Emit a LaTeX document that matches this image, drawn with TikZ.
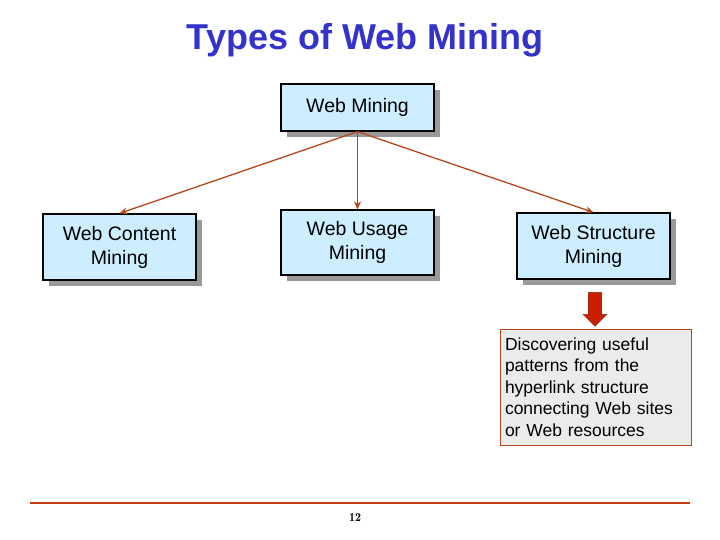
\documentclass[tikz,border=0pt]{standalone}
\usepackage{fontspec}
\setmainfont{Liberation Sans}
\usetikzlibrary{arrows.meta,shapes.arrows,shadows}
\definecolor{boxfill}{HTML}{CCEEFF}
\definecolor{conn}{HTML}{B5471A}
\definecolor{titleblue}{HTML}{3333CC}
\tikzset{
  wbox/.style={draw=black, line width=1.2pt, fill=boxfill, minimum width=153pt, align=center, font=\fontsize{19.5}{24}\selectfont, drop shadow={shadow xshift=6pt, shadow yshift=-6pt, fill=gray!80, opacity=1}},
  conarrow/.style={draw=conn, line width=1.3pt, -{Stealth[length=8pt,width=7pt]}}
}
\begin{document}
\begin{tikzpicture}[x=1pt,y=-1pt]
\useasboundingbox (0,0) rectangle (720,540);
\node[font=\bfseries\fontsize{36}{40}\selectfont, text=titleblue] (title) at (365,40) {Types of Web Mining};
\node[wbox, minimum height=47pt] (wm) at (357.5,107.5) {Web Mining};
\node[wbox, minimum height=66pt] (wc) at (119.5,247) {Web Content\\Mining};
\node[wbox, minimum height=65pt] (wu) at (357.5,242.5) {Web Usage\\Mining};
\node[wbox, minimum height=66pt] (ws) at (593.5,246) {Web Structure\\Mining};
\draw[conarrow] (wm.south) -- (wc.north);
\draw[conarrow] (wm.south) -- (wu.north);
\draw[conarrow] (wm.south) -- (ws.north);
\node[single arrow, shape border rotate=270, draw=conn!70!black, fill=red!70!orange!80!black, minimum width=24pt, single arrow head extend=4pt, single arrow head indent=0pt, minimum height=34pt, inner sep=5pt] (ar) at (595,306) {};
\node[draw=conn, fill=black!8, line width=0.8pt, minimum width=191pt, minimum height=116pt, align=left, text width=181pt, font=\fontsize{17.5}{21.5}\selectfont] (desc) at (595.5,387) {Discovering useful\\patterns from the\\hyperlink structure\\connecting Web sites\\or Web resources};
\coordinate (l1) at (30,503);
\coordinate (l2) at (690,503);
\draw[conn!80!red, line width=1.5pt] (l1) -- (l2);
\node[font=\fontfamily{lmr}\bfseries\fontsize{12}{14}\selectfont] (pg) at (355,518) {12};
\end{tikzpicture}
\end{document}
